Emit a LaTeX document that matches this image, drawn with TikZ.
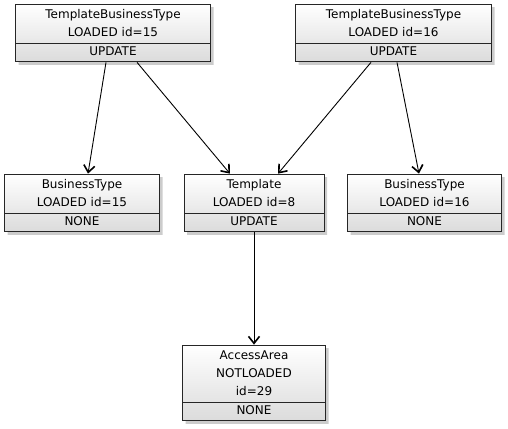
\documentclass[tikz,border=0pt]{standalone}
\usepackage{fontspec}
\setmainfont{DejaVu Sans}
\usetikzlibrary{shapes.multipart,shadows,arrows.meta}

\begin{document}
\begin{tikzpicture}[x=1pt,y=-1pt,-{Straight Barb[length=7pt,width=11pt,line width=1.6pt]},line width=0.9pt,
  entity/.style={rectangle split,rectangle split parts=2,draw=black!85,
    top color=white,bottom color=black!14,
    drop shadow={shadow xshift=3pt,shadow yshift=-3pt,fill=black!40,opacity=0.5},
    font=\fontsize{12}{18}\selectfont,align=center,inner xsep=0pt,inner ysep=1pt},
  every two node part/.style={font=\fontsize{12}{16}\selectfont}]
  \useasboundingbox (0,0) rectangle (508,428);

  \node[entity,text width=195pt] (tbt15) at (113,33)
    {\strut TemplateBusinessType\\LOADED id=15\strut\nodepart{two}\strut UPDATE};
  \node[entity,text width=196pt] (tbt16) at (393.5,33)
    {\strut TemplateBusinessType\\LOADED id=16\strut\nodepart{two}\strut UPDATE};
  \node[entity,text width=155pt] (bt15) at (82,203)
    {\strut BusinessType\\LOADED id=15\strut\nodepart{two}\strut NONE};
  \node[entity,text width=140pt] (tpl8) at (254,203)
    {\strut Template\\LOADED id=8\strut\nodepart{two}\strut UPDATE};
  \node[entity,text width=154pt] (bt16) at (424.5,203)
    {\strut BusinessType\\LOADED id=16\strut\nodepart{two}\strut NONE};
  \node[entity,text width=143pt] (aa29) at (254,383)
    {\strut AccessArea\\NOTLOADED\\id=29\strut\nodepart{two}\strut NONE};

  \draw ([xshift=-7pt]tbt15.south) -- ([xshift=6pt]bt15.north);
  \draw ([xshift=24pt]tbt15.south) -- ([xshift=-24pt]tpl8.north);
  \draw ([xshift=-22.5pt]tbt16.south) -- ([xshift=24pt]tpl8.north);
  \draw ([xshift=3.5pt]tbt16.south) -- ([xshift=-5.5pt]bt16.north);
  \draw (tpl8.south) -- (aa29.north);
\end{tikzpicture}
\end{document}
